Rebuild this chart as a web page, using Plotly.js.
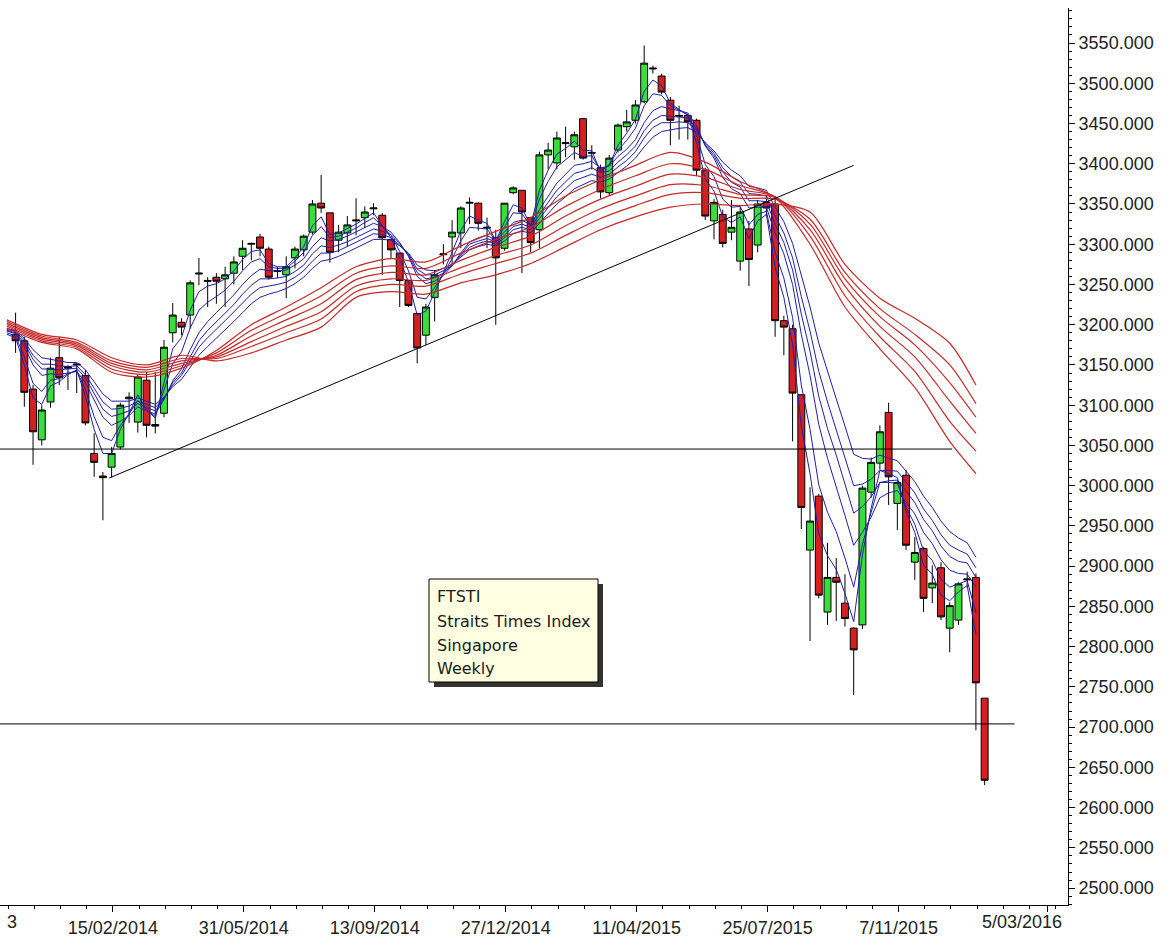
<!DOCTYPE html>
<html>
<head>
<meta charset="utf-8">
<script src="https://cdn.plot.ly/plotly-3.0.1.min.js"></script>
<style>
html,body{margin:0;padding:0;background:#fff;}
#chart{width:1169px;height:938px;}
</style>
</head>
<body>
<div id="chart"></div>
<script>
// Weekly dates (week ending Friday), #0 .. #112
const weekDates = [
'2013-11-22','2013-11-29','2013-12-06','2013-12-13','2013-12-20','2013-12-27','2014-01-03','2014-01-10','2014-01-17','2014-01-24',
'2014-01-31','2014-02-07','2014-02-14','2014-02-21','2014-02-28','2014-03-07','2014-03-14','2014-03-21','2014-03-28','2014-04-04',
'2014-04-11','2014-04-18','2014-04-25','2014-05-02','2014-05-09','2014-05-16','2014-05-23','2014-05-30','2014-06-06','2014-06-13',
'2014-06-20','2014-06-27','2014-07-04','2014-07-11','2014-07-18','2014-07-25','2014-08-01','2014-08-08','2014-08-15','2014-08-22',
'2014-08-29','2014-09-05','2014-09-12','2014-09-19','2014-09-26','2014-10-03','2014-10-10','2014-10-17','2014-10-24','2014-10-31',
'2014-11-07','2014-11-14','2014-11-21','2014-11-28','2014-12-05','2014-12-12','2014-12-19','2014-12-26','2015-01-02','2015-01-09',
'2015-01-16','2015-01-23','2015-01-30','2015-02-06','2015-02-13','2015-02-20','2015-02-27','2015-03-06','2015-03-13','2015-03-20',
'2015-03-27','2015-04-03','2015-04-10','2015-04-17','2015-04-24','2015-05-01','2015-05-08','2015-05-15','2015-05-22','2015-05-29',
'2015-06-05','2015-06-12','2015-06-19','2015-06-26','2015-07-03','2015-07-10','2015-07-17','2015-07-24','2015-07-31','2015-08-07',
'2015-08-14','2015-08-21','2015-08-28','2015-09-04','2015-09-11','2015-09-18','2015-09-25','2015-10-02','2015-10-09','2015-10-16',
'2015-10-23','2015-10-30','2015-11-06','2015-11-13','2015-11-20','2015-11-27','2015-12-04','2015-12-11','2015-12-18','2015-12-25',
'2016-01-01','2016-01-08','2016-01-15'];

// Candles #1 .. #112
const candleOpen = [
3188,3180,3120,3057,3104,3159,3148,3150,3137,3040,3012,3023,3048,3108,3079,3131,3076,3090,3190,3203,
3212,3263,3255,3259,3257,3264,3285,3300,3309,3294,3266,3262,3283,3293,3315,3351,3339,3305,3314,3329,
3333,3344,3336,3306,3289,3255,3214,3187,3234,3287,3309,3314,3351,3351,3320,3308,3295,3364,3367,3333,
3318,3411,3401,3425,3421,3456,3413,3395,3364,3417,3446,3454,3477,3519,3509,3479,3459,3460,3454,3392,
3329,3337,3315,3279,3319,3299,3352,3350,3205,3195,3113,2920,2987,2843,2886,2854,2823,2827,2992,3028,
3091,2978,3013,2905,2922,2873,2898,2823,2833,2883,2886,2736];
const candleHigh = [
3215,3185,3125,3100,3159,3185,3150,3152,3144,3065,3017,3048,3103,3116,3138,3141,3141,3181,3227,3208,
3255,3283,3259,3264,3272,3285,3305,3302,3313,3297,3272,3285,3297,3312,3355,3386,3339,3324,3335,3357,
3347,3351,3339,3306,3289,3255,3214,3226,3268,3300,3330,3347,3358,3352,3333,3318,3351,3372,3367,3334,
3415,3426,3440,3446,3440,3457,3423,3399,3411,3450,3467,3479,3547,3522,3512,3483,3472,3462,3456,3395,
3356,3343,3355,3346,3329,3355,3360,3360,3211,3200,3113,2998,2990,2929,2910,2890,2824,3000,3035,3075,
3103,3006,3020,2936,2924,2901,2905,2855,2880,2893,2891,2736];
const candleLow = [
3165,3098,3026,3050,3097,3125,3119,3115,3075,3011,2957,3010,3045,3078,3066,3060,3065,3085,3178,3187,
3195,3249,3222,3226,3222,3250,3268,3280,3285,3256,3258,3233,3270,3285,3312,3339,3277,3290,3297,3311,
3320,3336,3262,3283,3222,3222,3152,3175,3204,3275,3275,3295,3325,3317,3295,3200,3292,3362,3264,3290,
3295,3393,3393,3408,3405,3405,3393,3357,3360,3414,3440,3450,3475,3512,3486,3423,3430,3430,3385,3330,
3306,3296,3305,3267,3248,3290,3335,3185,3162,3055,2946,2807,2860,2827,2832,2825,2740,2822,2985,3020,
2976,2945,2920,2883,2843,2854,2833,2793,2827,2873,2696,2628];
const candleClose = [
3180,3116,3067,3094,3146,3134,3146,3151,3078,3029,3010,3040,3100,3110,3135,3075,3074,3172,3212,3197,
3252,3264,3254,3254,3262,3278,3295,3301,3295,3259,3267,3272,3294,3310,3350,3345,3290,3315,3324,3330,
3340,3345,3308,3293,3255,3224,3171,3222,3262,3288,3315,3345,3352,3326,3321,3283,3351,3370,3340,3302,
3411,3417,3432,3426,3436,3407,3414,3365,3407,3448,3452,3473,3525,3518,3489,3454,3460,3452,3392,3335,
3352,3301,3321,3340,3281,3350,3345,3205,3197,3115,2973,2956,2864,2886,2880,2835,2796,2997,3029,3067,
3011,3004,2926,2917,2860,2879,2837,2851,2878,2884,2755,2634];

// Short-term averages (blue), #0 .. #111 (lines stop one bar before the last candle)
const shortMA3 = [
3188,3184,3150,3109,3101,3124,3129,3138,3144,3111,3070,3040,3040,3070,3090,3113,3094,3084,3128,3170,
3184,3218,3241,3248,3251,3257,3267,3281,3291,3293,3276,3272,3272,3283,3297,3323,3334,3312,3314,3319,
3325,3332,3339,3323,3308,3282,3253,3212,3217,3240,3264,3290,3317,3335,3330,3326,3304,3328,3349,3345,
3323,3367,3392,3412,3419,3428,3417,3416,3390,3399,3423,3438,3455,3490,3504,3497,3475,3468,3460,3426,
3381,3366,3334,3327,3334,3307,3329,3337,3271,3234,3175,3074,3015,2940,2913,2896,2866,2831,2914,2972,
3019,3015,3010,2968,2942,2901,2890,2864,2857,2868,2876,2815];
const shortMA5 = [
3190,3186,3160,3127,3117,3131,3133,3139,3143,3119,3086,3060,3056,3075,3089,3106,3094,3086,3119,3152,
3166,3196,3218,3228,3235,3243,3254,3267,3278,3282,3272,3270,3270,3279,3290,3311,3322,3308,3310,3315,
3320,3327,3333,3322,3311,3291,3267,3234,3232,3246,3263,3282,3304,3321,3320,3319,3304,3322,3339,3338,
3323,3356,3378,3396,3405,3414,3409,3410,3392,3398,3417,3429,3444,3472,3487,3485,3472,3467,3461,3435,
3399,3384,3356,3346,3347,3324,3337,3341,3290,3258,3209,3125,3070,3001,2967,2943,2910,2874,2927,2967,
3004,3004,3003,2973,2952,2919,2907,2884,2874,2878,2882,2842];
const shortMA8 = [
3192,3189,3173,3150,3137,3139,3138,3140,3142,3128,3106,3085,3075,3080,3087,3098,3093,3089,3107,3130,
3145,3169,3190,3204,3215,3226,3237,3250,3261,3269,3267,3267,3268,3274,3282,3297,3308,3304,3306,3310,
3315,3320,3326,3322,3315,3302,3285,3260,3251,3254,3261,3273,3289,3303,3308,3311,3305,3315,3327,3330,
3324,3343,3360,3376,3387,3398,3400,3403,3395,3397,3409,3418,3430,3451,3466,3471,3468,3466,3463,3447,
3422,3407,3383,3369,3363,3345,3346,3346,3314,3288,3250,3188,3137,3076,3034,3000,2963,2926,2942,2961,
2985,2991,2994,2979,2965,2942,2928,2908,2895,2891,2890,2874];
const shortMA10 = [
3193,3190,3177,3157,3145,3145,3144,3145,3146,3134,3114,3095,3086,3089,3093,3102,3097,3093,3108,3128,
3140,3161,3180,3193,3204,3214,3225,3238,3249,3257,3257,3258,3260,3266,3274,3288,3298,3296,3299,3303,
3308,3313,3319,3316,3312,3301,3286,3265,3257,3259,3264,3274,3287,3300,3304,3307,3303,3311,3322,3325,
3321,3337,3352,3367,3377,3388,3391,3395,3389,3391,3402,3411,3422,3441,3454,3460,3459,3458,3457,3444,
3423,3410,3390,3377,3371,3354,3354,3353,3325,3302,3268,3213,3167,3111,3071,3038,3002,2966,2974,2986,
3004,3006,3007,2993,2979,2958,2944,2925,2912,2906,2904,2886];
const shortMA12 = [
3194,3192,3180,3162,3151,3151,3149,3148,3149,3138,3121,3104,3095,3096,3099,3105,3101,3097,3109,3125,
3137,3155,3172,3184,3194,3205,3216,3227,3238,3246,3248,3250,3253,3259,3267,3279,3289,3289,3292,3297,
3302,3308,3313,3312,3308,3299,3288,3269,3262,3262,3267,3274,3286,3296,3301,3304,3300,3308,3318,3321,
3318,3332,3346,3359,3369,3379,3383,3387,3383,3387,3396,3404,3415,3432,3445,3451,3451,3452,3451,3442,
3425,3413,3395,3384,3377,3363,3362,3360,3335,3314,3283,3235,3192,3142,3104,3070,3035,3000,3002,3008,
3019,3019,3018,3004,2991,2971,2957,2939,2926,2920,2915,2898];
const shortMA15 = [
3195,3193,3183,3169,3159,3157,3155,3153,3153,3144,3129,3114,3105,3105,3105,3109,3105,3101,3110,3123,
3132,3147,3162,3173,3183,3193,3204,3215,3226,3234,3238,3241,3245,3251,3259,3270,3279,3281,3285,3290,
3295,3301,3306,3306,3305,3298,3289,3274,3268,3267,3270,3275,3284,3293,3297,3300,3298,3304,3313,3316,
3314,3326,3338,3350,3359,3369,3374,3379,3377,3381,3389,3397,3407,3421,3433,3440,3442,3444,3445,3439,
3426,3416,3402,3392,3385,3372,3370,3367,3346,3328,3301,3260,3222,3177,3141,3108,3074,3039,3034,3033,
3038,3034,3031,3018,3005,2987,2973,2956,2943,2935,2929,2911];

// Long-term averages (red), read every 4 weeks
const longDates = ['2013-11-22','2013-12-20','2014-01-17','2014-02-14','2014-03-14','2014-04-11','2014-05-09','2014-06-06',
'2014-07-04','2014-08-01','2014-08-29','2014-09-26','2014-10-24','2014-11-21','2014-12-19','2015-01-16','2015-02-13',
'2015-03-13','2015-04-10','2015-05-08','2015-06-05','2015-07-03','2015-07-31','2015-08-28','2015-09-25','2015-10-23',
'2015-11-20','2015-12-18','2016-01-08'];
const longMA30 = [3196,3178,3170,3141,3135,3146,3168,3200,3222,3246,3272,3282,3278,3298,3316,3333,3360,3380,3398,3414,3402,3378,3358,3300,3222,3170,3122,3055,3015];
const longMA35 = [3198,3180,3172,3145,3138,3149,3165,3193,3214,3236,3264,3273,3270,3289,3306,3321,3347,3368,3385,3400,3393,3373,3359,3310,3236,3185,3142,3080,3043];
const longMA40 = [3200,3182,3174,3149,3141,3152,3162,3186,3206,3226,3256,3265,3262,3280,3296,3310,3335,3356,3372,3387,3383,3368,3359,3318,3248,3198,3160,3105,3065];
const longMA45 = [3202,3184,3176,3152,3144,3155,3160,3179,3198,3216,3248,3257,3255,3271,3286,3299,3323,3344,3360,3374,3373,3362,3358,3325,3257,3210,3175,3128,3085];
const longMA50 = [3204,3186,3178,3155,3147,3158,3158,3173,3190,3207,3241,3250,3248,3263,3276,3289,3311,3332,3348,3362,3364,3357,3356,3331,3265,3220,3188,3150,3102];
const longMA60 = [3206,3188,3181,3159,3150,3162,3155,3165,3181,3197,3234,3241,3238,3252,3262,3276,3297,3318,3334,3346,3350,3348,3350,3340,3275,3233,3208,3177,3125];

// Axis ticks
const xTickVals = ['2014-02-15','2014-05-31','2014-09-13','2014-12-27','2015-04-11','2015-07-25','2015-11-07','2016-03-05'];
const xTickText = ['15/02/2014','31/05/2014','13/09/2014','27/12/2014','11/04/2015','25/07/2015','7/11/2015',''];

// Drawn lines: [x0, y0, x1, y1]
const supportHigh = ['2013-11-10', 3045.5, '2015-12-20', 3045.5];
const supportLow = ['2013-11-10', 2704, '2016-02-08', 2704];
const trendLine = ['2014-02-12', 3009.5, '2015-10-02', 3398];

const infoLines = ['FTSTI','Straits Times Index','Singapore','Weekly'];

const candleDates = weekDates.slice(1);
const maDates = weekDates.slice(0, 112);

const traces = [];
traces.push({
  type: 'candlestick',
  x: candleDates, open: candleOpen, high: candleHigh, low: candleLow, close: candleClose,
  increasing: {line: {color: '#000000', width: 1}, fillcolor: '#3ade3a'},
  decreasing: {line: {color: '#000000', width: 1}, fillcolor: '#d42020'},
  whiskerwidth: 0,
  showlegend: false, hoverinfo: 'skip'
});
const blueSets = [shortMA3, shortMA5, shortMA8, shortMA10, shortMA12, shortMA15];
blueSets.forEach(s => traces.push({
  type: 'scatter', mode: 'lines', x: maDates, y: s,
  line: {color: '#1f1fa8', width: 1}, showlegend: false, hoverinfo: 'skip'
}));
const redSets = [longMA30, longMA35, longMA40, longMA45, longMA50, longMA60];
redSets.forEach(s => traces.push({
  type: 'scatter', mode: 'lines', x: longDates, y: s,
  line: {color: '#c42a2a', width: 1.2, shape: 'spline', smoothing: 0.8}, showlegend: false, hoverinfo: 'skip'
}));

const W = 1068, H = 897, T = 8;
function px(x){ return x / W; }
function py(y){ return 1 - (y - T) / H; }

const shapes = [
  {type:'line', xref:'x', yref:'y', x0:supportHigh[0], y0:supportHigh[1], x1:supportHigh[2], y1:supportHigh[3], line:{color:'#000', width:1}},
  {type:'line', xref:'x', yref:'y', x0:supportLow[0], y0:supportLow[1], x1:supportLow[2], y1:supportLow[3], line:{color:'#000', width:1}},
  {type:'line', xref:'x', yref:'y', x0:trendLine[0], y0:trendLine[1], x1:trendLine[2], y1:trendLine[3], line:{color:'#000', width:1}},
  {type:'rect', xref:'paper', yref:'paper', x0:px(434), x1:px(603), y0:py(687), y1:py(584), fillcolor:'#333333', line:{width:0}},
  {type:'rect', xref:'paper', yref:'paper', x0:px(429), x1:px(598), y0:py(682), y1:py(579), fillcolor:'#ffffe1', line:{color:'#000', width:1}}
];

const annotations = [];
const lineY = [596, 621, 645, 668];
infoLines.forEach((t, i) => annotations.push({
  xref:'paper', yref:'paper', x:px(435), y:py(lineY[i]), xanchor:'left', yanchor:'middle',
  text:t, showarrow:false, font:{family:'DejaVu Sans, Liberation Sans, sans-serif', size:16, color:'#1a1a1a'}
}));
annotations.push({xref:'paper', yref:'paper', x:px(1022), y:py(922), xanchor:'center', yanchor:'middle',
  text:'5/03/2016', showarrow:false, font:{family:'Liberation Sans, Arial, sans-serif', size:18, color:'#222'}});
annotations.push({xref:'paper', yref:'paper', x:px(12), y:py(922), xanchor:'center', yanchor:'middle',
  text:'3', showarrow:false, font:{family:'Liberation Sans, Arial, sans-serif', size:18, color:'#222'}});

const layout = {
  width: 1169, height: 938,
  margin: {l:0, r:101, t:8, b:33, pad:0},
  paper_bgcolor: '#ffffff', plot_bgcolor: '#ffffff',
  font: {family:'Liberation Sans, Arial, sans-serif', size:18, color:'#222'},
  showlegend: false,
  boxgap: 0.12, boxgroupgap: 0.1,
  xaxis: {
    type:'date', range:['2013-11-16 12:00','2016-03-21 20:00'],
    rangeslider:{visible:false},
    tickmode:'array', tickvals:xTickVals, ticktext:xTickText,
    showgrid:false, zeroline:false, showline:true, linecolor:'#000', linewidth:1,
    ticks:'outside', ticklen:6, tickcolor:'#000',
    minor:{tickmode:'linear', tick0:'2014-02-15', dtick:21*86400000, ticks:'outside', ticklen:3, tickcolor:'#000', showgrid:false},
    tickfont:{size:18, color:'#222'}, fixedrange:true
  },
  yaxis: {
    side:'right', range:[2479, 3593.5],
    tickmode:'linear', tick0:2500, dtick:50, tickformat:'.3f',
    showgrid:false, zeroline:false, showline:true, linecolor:'#000', linewidth:1,
    ticks:'outside', ticklen:6, tickcolor:'#000',
    minor:{dtick:10, ticks:'outside', ticklen:3, tickcolor:'#000', showgrid:false},
    tickfont:{size:18, color:'#222'}, fixedrange:true
  },
  shapes: shapes,
  annotations: annotations
};

Plotly.newPlot('chart', traces, layout, {staticPlot:true, displayModeBar:false});
</script>
</body>
</html>
